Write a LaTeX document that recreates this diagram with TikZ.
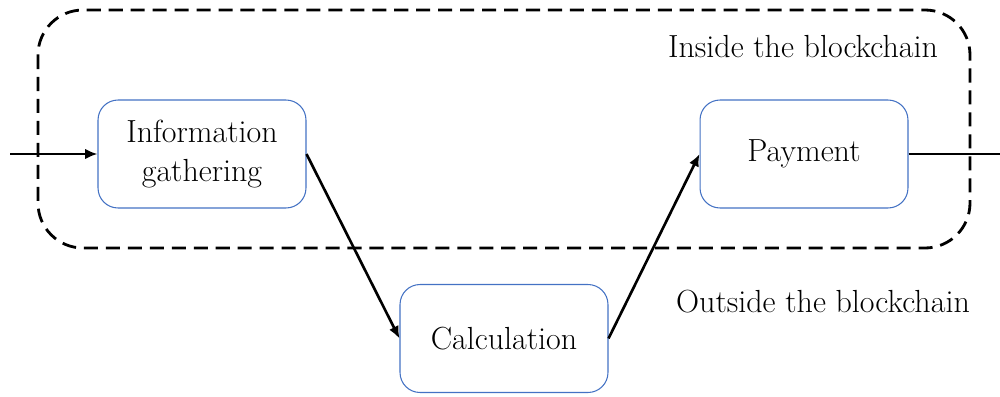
\documentclass[tikz,border=0pt]{standalone}
\usetikzlibrary{arrows.meta}
\begin{document}
\begin{tikzpicture}[x=0.02cm,y=-0.02cm,
  box/.style={draw={rgb,255:red,68;green,114;blue,196}, line width=0.6pt, rounded corners=0.4cm, minimum width=4.16cm, minimum height=2.16cm, align=center, font=\fontsize{18.2}{22}\selectfont, fill=white},
  conn/.style={line width=1.5pt, -{Latex[length=7pt,width=6pt]}},
  lbl/.style={font=\fontsize{18.2}{22}\selectfont}]
\useasboundingbox (0,0) rectangle (1000,396);
\draw[line width=1.6pt, dash pattern=on 8pt off 4.5pt, rounded corners=0.9cm] (38,10) rectangle (970,248);
\node[box] (info) at (202,154) {Information\\gathering};
\node[box] (pay) at (804,154) {Payment};
\node[box] (calc) at (504,338.5) {Calculation};
\coordinate (in) at (10,154);
\coordinate (out) at (1000,154);
\node[lbl] (inside) at (803,47) {Inside the blockchain};
\node[lbl] (outside) at (823,302) {Outside the blockchain};
\draw[conn] (in) -- (info.west);
\draw[line width=1.5pt] (pay.east) -- (out);
\draw[conn] (info.east) -- (calc.west);
\draw[conn] (calc.east) -- (pay.west);
\end{tikzpicture}
\end{document}
